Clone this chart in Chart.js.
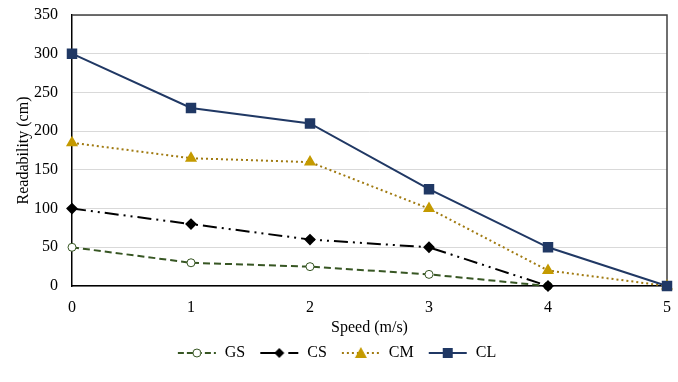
<!DOCTYPE html>
<html>
<head>
<meta charset="utf-8">
<script src="https://cdn.jsdelivr.net/npm/chart.js@4/dist/chart.umd.min.js"></script>
<style>
  html, body { margin: 0; padding: 0; background: #fff; }
  #wrap { width: 678px; height: 382px; }
</style>
</head>
<body>
<div id="wrap"><canvas id="readChart" width="678" height="382"></canvas></div>
<script>
// Readability vs speed
const speeds = [0, 1, 2, 3, 4, 5];
const gsValues = [50, 30, 25, 15, 0];
const csValues = [100, 80, 60, 50, 0];
const cmValues = [185, 165, 160, 100, 20, 0];
const clValues = [300, 230, 210, 125, 50, 0];
const yTicks = [0, 50, 100, 150, 200, 250, 300, 350];

const toPoints = vals => vals.map((v, i) => ({ x: speeds[i], y: v }));

// small canvas with line + marker for the legend
function legendIcon(color, dash, marker, fill) {
  const c = document.createElement('canvas');
  c.width = 46; c.height = 14;
  const g = c.getContext('2d');
  g.strokeStyle = color;
  g.lineWidth = 2;
  g.setLineDash(dash);
  g.beginPath(); g.moveTo(7, 7); g.lineTo(45, 7); g.stroke();
  g.setLineDash([]);
  g.fillStyle = fill;
  g.lineWidth = 1;
  g.beginPath();
  if (marker === 'circle') { g.arc(26, 7, 4, 0, Math.PI * 2); g.fillStyle = '#fff'; g.fill(); g.strokeStyle = color; g.stroke(); }
  if (marker === 'rectRot') { g.moveTo(26, 2); g.lineTo(31, 7); g.lineTo(26, 12); g.lineTo(21, 7); g.closePath(); g.fill(); }
  if (marker === 'triangle') { g.moveTo(26, 1); g.lineTo(32, 12); g.lineTo(20, 12); g.closePath(); g.fill(); }
  if (marker === 'rect') { g.rect(21, 2, 10, 10); g.fill(); }
  return c;
}

const frame = {
  id: 'frame',
  beforeDatasetsDraw(chart) {
    const a = chart.chartArea, c = chart.ctx;
    c.save();
    c.strokeStyle = '#404040';
    c.lineWidth = 1.5;
    c.beginPath();
    c.moveTo(a.left, a.top); c.lineTo(a.right, a.top); c.lineTo(a.right, a.bottom);
    c.stroke();
    c.restore();
  }
};

Chart.defaults.font.family = "'Liberation Serif', 'Times New Roman', serif";
Chart.defaults.font.size = 16;
Chart.defaults.color = '#000';

const ctx = document.getElementById('readChart');
new Chart(ctx, {
  type: 'line',
  data: {
    datasets: [
      {
        label: 'GS', data: toPoints(gsValues), order: 4, clip: false,
        borderColor: '#375623', borderWidth: 2, borderDash: [7, 4],
        pointStyle: 'circle', pointRadius: 4, pointBackgroundColor: '#fff', pointBorderColor: '#375623', pointBorderWidth: 1,
        legendIcon: legendIcon('#375623', [6, 3], 'circle', '#fff')
      },
      {
        label: 'CS', data: toPoints(csValues), order: 3, clip: false,
        borderColor: '#000', borderWidth: 2, borderDash: [14, 5, 2, 5, 2, 5],
        pointStyle: 'rectRot', pointRadius: 4.5, pointBackgroundColor: '#000', pointBorderColor: '#000',
        legendIcon: legendIcon('#000', [16, 5, 2, 5], 'rectRot', '#000')
      },
      {
        label: 'CM', data: toPoints(cmValues), order: 2, clip: false,
        borderColor: '#a07a10', borderWidth: 2, borderDash: [2, 3],
        pointStyle: 'triangle', pointRadius: 5, pointBackgroundColor: '#c49a00', pointBorderColor: '#c49a00',
        legendIcon: legendIcon('#a07a10', [2, 3], 'triangle', '#c49a00')
      },
      {
        label: 'CL', data: toPoints(clValues), order: 1, clip: false,
        borderColor: '#203864', borderWidth: 2,
        pointStyle: 'rect', pointRadius: 6, pointBackgroundColor: '#203864', pointBorderColor: '#203864',
        legendIcon: legendIcon('#203864', [], 'rect', '#203864')
      }
    ]
  },
  options: {
    responsive: false,
    animation: false,
    layout: { padding: { left: 0, right: 11, top: 15, bottom: 11 } },
    plugins: {
      legend: {
        position: 'bottom',
        labels: {
          usePointStyle: true,
          pointStyleWidth: 46,
          padding: 8,
          font: { size: 16 },
          generateLabels(chart) {
            return chart.data.datasets.map((ds, i) => ({
              text: ds.label, pointStyle: ds.legendIcon, datasetIndex: i,
              fillStyle: 'transparent', strokeStyle: 'transparent', lineWidth: 0, fontColor: '#000'
            }));
          }
        }
      },
      tooltip: { enabled: false }
    },
    scales: {
      x: {
        type: 'linear', min: 0, max: 5,
        ticks: { stepSize: 1, padding: 12 },
        grid: { display: false, drawTicks: false },
        border: { color: '#000', width: 1.5 },
        title: { display: true, text: 'Speed (m/s)', padding: { top: 0, bottom: 0 } },
        afterFit(axis) { axis.height = 51; axis.paddingLeft = 0; axis.paddingRight = 0; }
      },
      y: {
        min: 0, max: 350,
        afterBuildTicks(axis) { axis.ticks = yTicks.map(v => ({ value: v })); },
        ticks: { padding: 14 },
        grid: { color: '#d9d9d9', lineWidth: 1, drawTicks: false },
        border: { color: '#000', width: 1.5 },
        title: { display: true, text: 'Readability (cm)', padding: { top: 14, bottom: 0 } },
        afterFit(axis) { axis.width = 72; axis.paddingTop = 0; axis.paddingBottom = 0; }
      }
    }
  },
  plugins: [frame]
});
</script>
</body>
</html>
